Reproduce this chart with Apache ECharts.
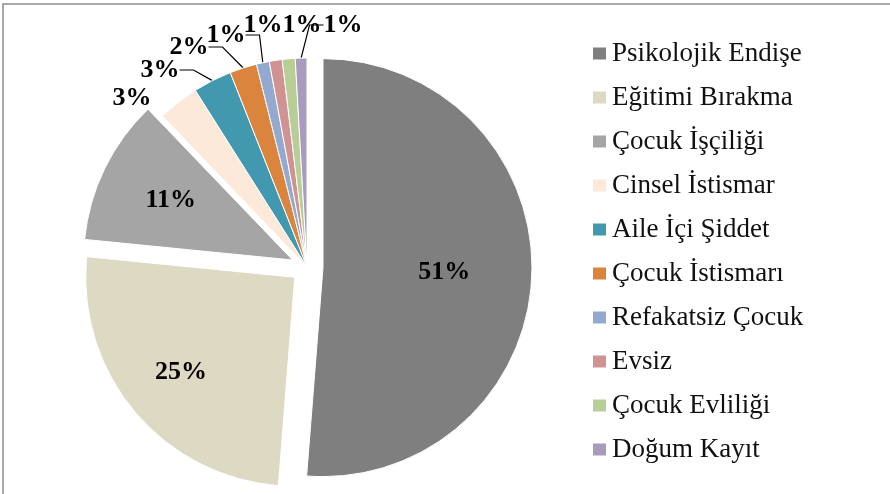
<!DOCTYPE html>
<html>
<head>
<meta charset="utf-8">
<script src="https://cdn.jsdelivr.net/npm/echarts@6/dist/echarts.min.js"></script>
<style>
  html, body { margin: 0; padding: 0; background: #fff; }
  #container { width: 890px; height: 494px; }
</style>
</head>
<body>
<div id="container"></div>
<script>
  var categories = ['Psikolojik Endişe', 'Eğitimi Bırakma', 'Çocuk İşçiliği', 'Cinsel İstismar',
    'Aile İçi Şiddet', 'Çocuk İstismarı', 'Refakatsiz Çocuk', 'Evsiz', 'Çocuk Evliliği', 'Doğum Kayıt'];
  var shares = [51.4, 25.4, 11.3, 3.2, 3.0, 2.1, 1.0, 1.0, 1.0, 0.9];
  var colors = ['#7f7f7f', '#ddd9c3', '#a5a5a5', '#fde9d9', '#4198af', '#db843d', '#93a9cf', '#d19392', '#b9cd96', '#a99bbd'];
  var exploded = [true, true, true, false, false, false, false, false, false, false];

  var dom = document.getElementById('container');
  var myChart = echarts.init(dom, null, { renderer: 'canvas' });

  var pieCenter = [307, 267];
  var serif = '"Liberation Serif", "DejaVu Serif", serif';

  // label placement (hand-dragged in the original)
  var pushOut = [0.13, 0.38, 0.26];
  var labelSpots = [null, null, null, [132, 98], [160, 70], [189, 47], [226, 35], [263, 25], [302, 25], [343, 25]];
  var showLine = [false, false, false, false, true, true, true, false, false, true];

  var data = categories.map(function (name, i) {
    return {
      name: name,
      value: shares[i],
      selected: exploded[i],
      itemStyle: { color: colors[i] },
      label: exploded[i] ? { position: 'inside' } : { position: 'outside' },
      labelLine: { show: showLine[i] }
    };
  });

  var option = {
    animation: false,
    graphic: [{
      type: 'rect',
      shape: { x: 3, y: 4, width: 950, height: 550 },
      style: { fill: 'none', stroke: '#8c8c8c', lineWidth: 1.5 },
      silent: true
    }],
    legend: {
      orient: 'vertical',
      left: 586,
      top: 35,
      icon: 'rect',
      itemWidth: 15,
      itemHeight: 14,
      itemGap: 17,
      selectedMode: false,
      textStyle: { fontFamily: serif, fontSize: 27, color: '#111' },
      data: categories
    },
    series: [{
      type: 'pie',
      center: pieCenter,
      radius: 209,
      startAngle: 90,
      clockwise: true,
      selectedMode: 'multiple',
      selectedOffset: 16,
      silent: true,
      avoidLabelOverlap: false,
      itemStyle: { borderColor: '#fff', borderWidth: 1 },
      select: { itemStyle: { borderColor: '#fff', borderWidth: 1 } },
      label: {
        formatter: function (p) { return Math.round(p.value) + '%'; },
        fontFamily: serif,
        fontWeight: 'bold',
        fontSize: 26,
        color: '#000'
      },
      labelLine: {
        length: 8,
        length2: 14,
        lineStyle: { color: '#000', width: 1.2 }
      },
      labelLayout: function (p) {
        var i = p.dataIndex;
        if (exploded[i]) {
          var r = p.labelRect;
          var lx = r.x + r.width / 2, ly = r.y + r.height / 2;
          return { dx: (lx - pieCenter[0]) * pushOut[i], dy: (ly - pieCenter[1]) * pushOut[i] };
        }
        var s = labelSpots[i];
        return { x: s[0], y: s[1], align: 'center', verticalAlign: 'middle' };
      },
      data: data
    }]
  };

  myChart.setOption(option);
  window.addEventListener('resize', myChart.resize);
</script>
</body>
</html>
